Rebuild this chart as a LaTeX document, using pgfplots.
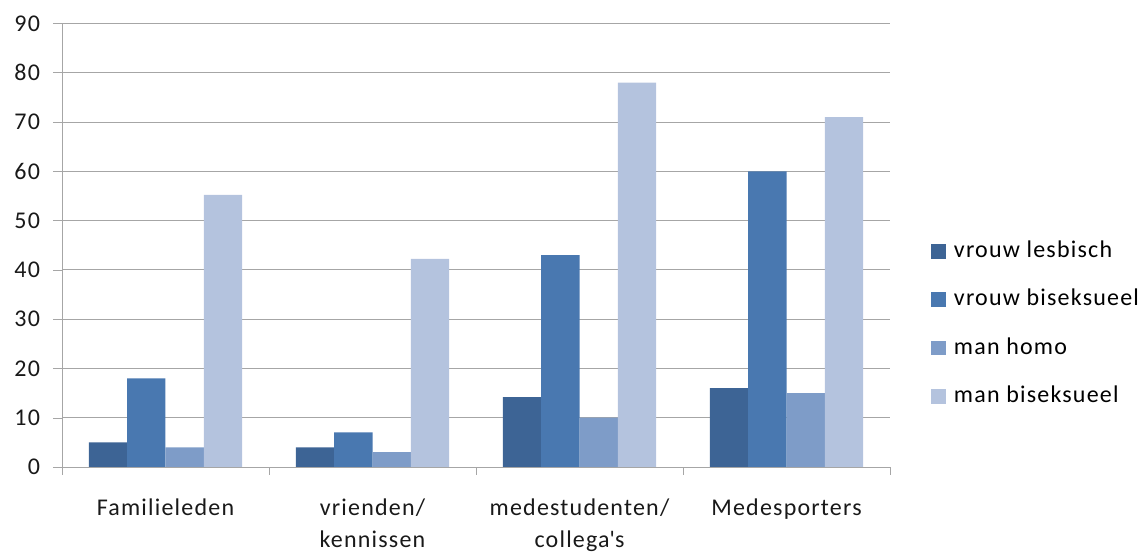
\documentclass[border=0pt]{standalone}
\usepackage{fontspec}
\setmainfont{Carlito}[LetterSpace=5]
\usepackage{pgfplots}
\pgfplotsset{compat=1.18}
\usetikzlibrary{calc}

\definecolor{c1}{HTML}{3D6495}
\definecolor{c2}{HTML}{4978B0}
\definecolor{c3}{HTML}{7E9CC8}
\definecolor{c4}{HTML}{B4C3DE}
\definecolor{gridc}{HTML}{A6A6A6}

\begin{document}
\begin{tikzpicture}
\begin{axis}[
  name=ax,
  scale only axis, width=414pt, height=221.8pt,
  ybar=0pt, bar width=0.185,
  xmin=-0.5, xmax=3.5, ymin=0, ymax=90,
  ytick={0,10,...,90},
  xtick={0,1,2,3},
  xticklabels={Familieleden, {vrienden/\\kennissen}, {medestudenten/\\collega\textquotesingle s}, Medesporters},
  minor xtick={-0.5,0.5,1.5,2.5,3.5},
  major x tick style={draw=none},
  tick align=outside,
  major tick length=4.5pt, minor tick length=4pt,
  axis lines*=left,
  axis line style={gridc},
  tick style={gridc},
  ymajorgrids, grid style={gridc},
  tick label style={font=\fontsize{12}{16}\selectfont, text=black!90},
  xticklabel style={align=center, yshift=-8pt},
  yticklabel style={xshift=-3pt},
  /pgf/number format/assume math mode=true,
  legend cell align=left,
  legend style={draw=none, fill=none, at={(1.0495,0.3225)}, anchor=west,
    inner sep=0pt, row sep=14.2pt, column sep=4pt,
    font=\fontsize{12}{14}\selectfont,
    nodes={inner sep=0pt, text height=8pt, text depth=2pt}},
  legend image code/.code={\fill[#1] (0pt,-3.65pt) rectangle (7.3pt,3.65pt);},
]
\addplot[fill=c1, draw=none] coordinates {(0,5) (1,4) (2,14.2) (3,16)};
\addlegendentry{vrouw lesbisch}
\addplot[fill=c2, draw=none] coordinates {(0,18) (1,7) (2,43) (3,60)};
\addlegendentry{vrouw biseksueel}
\addplot[fill=c3, draw=none] coordinates {(0,4) (1,3) (2,10) (3,15)};
\addlegendentry{man homo}
\addplot[fill=c4, draw=none] coordinates {(0,55.2) (1,42.2) (2,78) (3,71)};
\addlegendentry{man biseksueel}
\end{axis}
\pgfresetboundingbox
\path[use as bounding box] ($(ax.south west)+(-31pt,-42.5pt)$) rectangle ($(ax.north east)+(126pt,11.7pt)$);
\end{tikzpicture}
\end{document}
